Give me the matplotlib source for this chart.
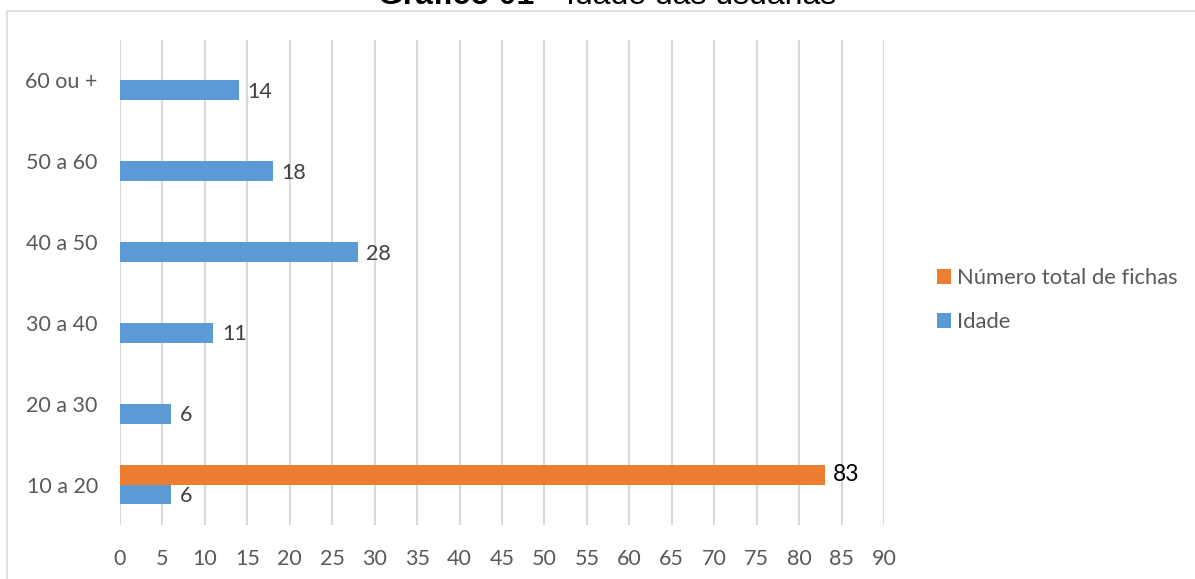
import numpy as np
import matplotlib
matplotlib.use('Agg')
import matplotlib.pyplot as plt
from matplotlib.patches import Rectangle

plt.rcParams['font.family'] = ['Lato', 'DejaVu Sans']

# dados
faixas = ['10 a 20', '20 a 30', '30 a 40', '40 a 50', '50 a 60', '60 ou +']
idade = [6, 6, 11, 28, 18, 14]
total_fichas = [83, np.nan, np.nan, np.nan, np.nan, np.nan]
xticks = list(range(0, 95, 5))

azul = '#5B9BD5'
laranja = '#ED7D31'
cinza = '#595959'
fs = 15.5

fig = plt.figure(figsize=(11.95, 5.79), dpi=100)
ax = fig.add_axes([120/1195, 54/579, 764/1195, 485/579])

# moldura do grafico
fig.patches.append(Rectangle((7/1195, -0.1), 1.2, 1.1 - 11/579, transform=fig.transFigure,
                             fill=False, edgecolor='#D9D9D9', linewidth=1.2))

y = np.arange(len(faixas))
h = 0.245
ax.barh(y - h/2, idade, height=h, color=azul, label='Idade', zorder=3)
ax.barh(y + h/2, total_fichas, height=h, color=laranja, label='Número total de fichas', zorder=3)

for yi, v in zip(y, idade):
    ax.text(v + 1.0, yi - h/2 - 0.02, str(v), va='center', ha='left', fontsize=fs, color='#404040')
for yi, v in zip(y, total_fichas):
    if not np.isnan(v):
        ax.text(v + 1.0, yi + h/2, str(int(v)), va='center', ha='left', fontsize=16.5, color='black')

ax.set_xlim(0, 90)
ax.set_ylim(-0.5, 5.5)
ax.set_xticks(xticks)
ax.set_yticks(y)
ax.set_yticklabels(faixas)
ax.tick_params(axis='both', length=0, labelsize=fs, labelcolor=cinza)
ax.tick_params(axis='x', pad=17)
ax.tick_params(axis='y', pad=16)
ax.grid(axis='x', color='#D9D9D9', linewidth=1.5, zorder=0)
for s in ax.spines.values():
    s.set_visible(False)

handles, labels = ax.get_legend_handles_labels()
fig.legend(handles[::-1], labels[::-1], loc='center left', bbox_to_anchor=(917/1195, 1 - 300/579),
           frameon=False, fontsize=15.8, labelcolor=cinza, handlelength=0.65, handleheight=0.65,
           handletextpad=0.27, labelspacing=1.1)

# titulo (cortado no topo, como no original)
fig.text(378/1195, 1 - 4/579, 'Gráfico 01 –', family='Liberation Sans', fontweight='bold',
         fontsize=23, va='baseline', ha='left')
fig.text(566/1195, 1 - 4/579, 'Idade das usuárias', family='Liberation Sans',
         fontsize=23, va='baseline', ha='left')

fig.savefig('out.png', dpi=100)
